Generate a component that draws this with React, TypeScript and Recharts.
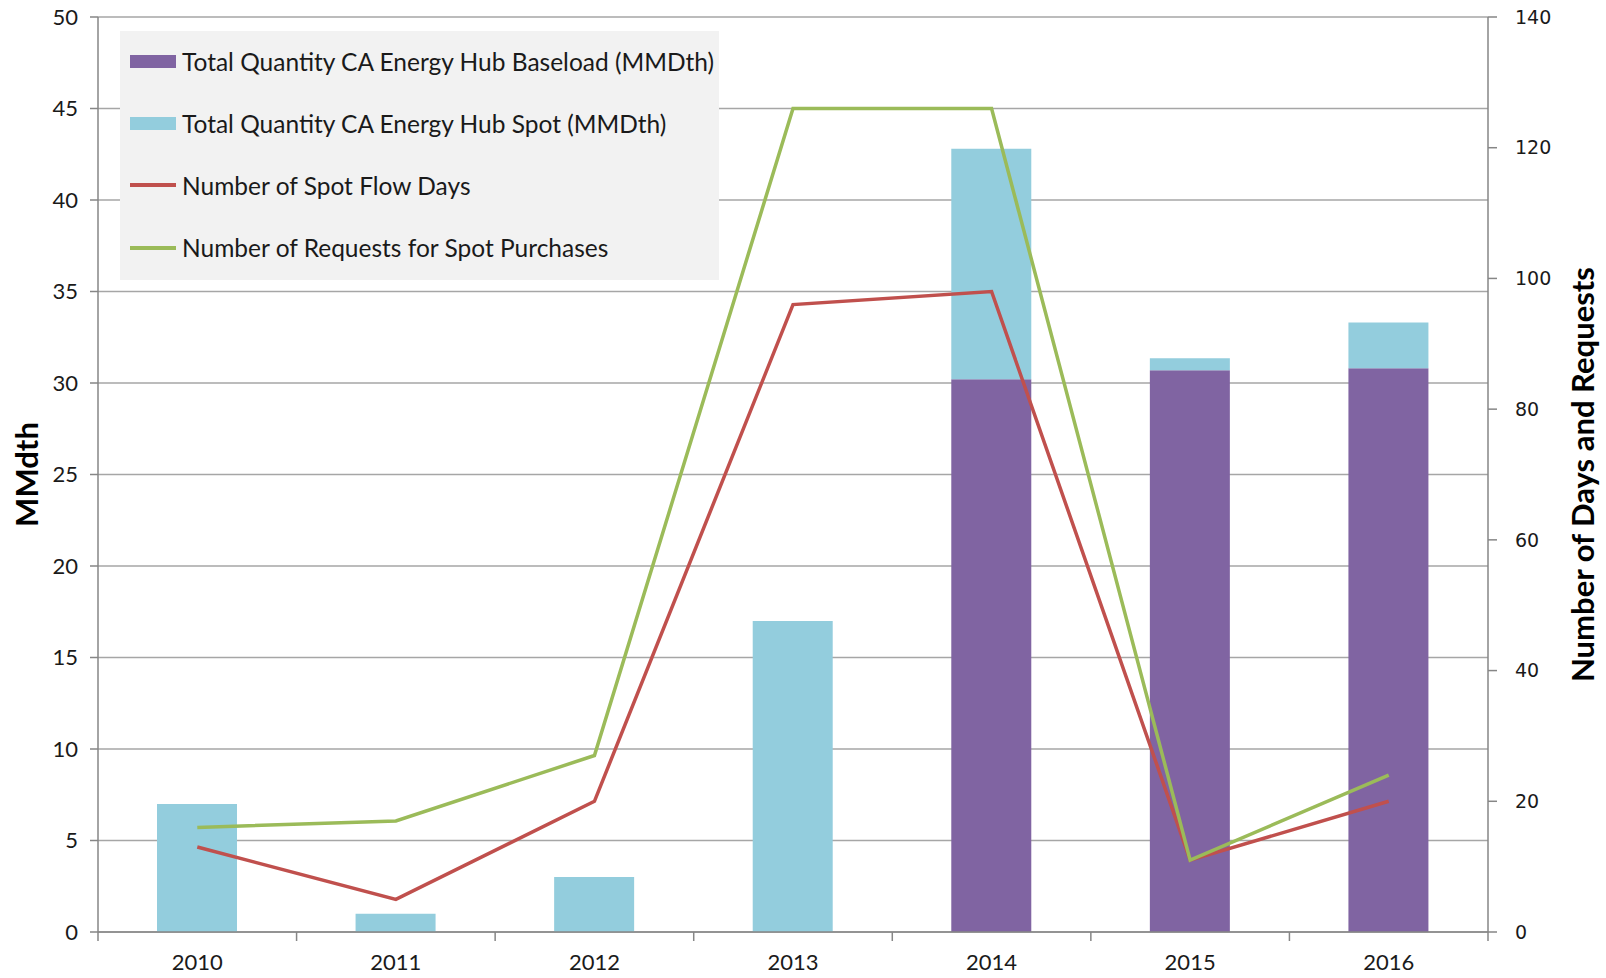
import React from 'react';
import { ComposedChart, Bar, Line, XAxis, YAxis, CartesianGrid, Legend, Label } from 'recharts';

const years = ['2010', '2011', '2012', '2013', '2014', '2015', '2016'];
const baseload = [0, 0, 0, 0, 30.2, 30.7, 30.8];
const spot = [7.0, 1.0, 3.0, 17.0, 12.6, 0.65, 2.5];
const flowDays = [13, 5, 20, 96, 98, 11, 20];
const requests = [16, 17, 27, 126, 126, 11, 24];
const leftTicks = [0, 5, 10, 15, 20, 25, 30, 35, 40, 45, 50];
const rightTicks = [0, 20, 40, 60, 80, 100, 120, 140];

const PURPLE = '#8064A2';
const BLUE = '#93CDDD';
const RED = '#C0504D';
const GREEN = '#9BBB59';
const AXIS = '#868686';
const GRID = '#a6a6a6';
const FONT = 'Lato, "Open Sans", sans-serif';

const chartData = years.map((year, i) => ({
  year,
  baseload: baseload[i],
  spot: spot[i],
  flowDays: flowDays[i],
  requests: requests[i],
}));

const legendItems = [
  { label: 'Total Quantity CA Energy Hub Baseload (MMDth)', color: PURPLE, kind: 'bar' },
  { label: 'Total Quantity CA Energy Hub Spot (MMDth)', color: BLUE, kind: 'bar' },
  { label: 'Number of Spot Flow Days', color: RED, kind: 'line' },
  { label: 'Number of Requests for Spot Purchases', color: GREEN, kind: 'line' },
];

const ChartLegend = () => (
  <div style={{ background: '#f2f2f2', width: 599, height: 249, position: 'relative', fontFamily: FONT }}>
    {legendItems.map((item, i) => (
      <div
        key={item.label}
        style={{ position: 'absolute', left: 10, top: 30 + i * 62.2 - 15, height: 30, display: 'flex', alignItems: 'center' }}
      >
        <span
          style={{
            display: 'inline-block',
            width: 46,
            height: item.kind === 'bar' ? 13 : 4,
            background: item.color,
            marginRight: 6,
          }}
        />
        <span style={{ fontSize: 24.5, color: '#1a1a1a', whiteSpace: 'nowrap' }}>{item.label}</span>
      </div>
    ))}
  </div>
);

const YearTick = (props: any) => {
  const { x, y, payload, index, visibleTicksCount, width } = props;
  const half = payload && payload.offset ? payload.offset : width / visibleTicksCount / 2;
  return (
    <g>
      <line x1={x - half} x2={x - half} y1={y} y2={y + 9} stroke={AXIS} strokeWidth={1.5} />
      {index === visibleTicksCount - 1 && (
        <line x1={x + half} x2={x + half} y1={y} y2={y + 9} stroke={AXIS} strokeWidth={1.5} />
      )}
      <text x={x} y={y + 38} textAnchor="middle" fontFamily={FONT} fontSize={22} fill="#1a1a1a">
        {payload.value}
      </text>
    </g>
  );
};

const VerticalTitle = ({ viewBox, value, cx }: any) => {
  const cy = viewBox.y + viewBox.height / 2;
  return (
    <text
      x={cx}
      y={cy}
      transform={`rotate(-90 ${cx} ${cy})`}
      textAnchor="middle"
      dominantBaseline="central"
      fontFamily={FONT}
      fontWeight="bold"
      fontSize={31}
      fill="#000"
    >
      {value}
    </text>
  );
};

export default function App() {
  return (
    <div style={{ position: 'absolute', left: 0, top: 0, width: 1606, height: 978, background: '#fff' }}>
      <ComposedChart width={1606} height={978} data={chartData} margin={{ top: 17, right: 0, left: 0, bottom: 0 }}>
        <CartesianGrid vertical={false} stroke={GRID} strokeWidth={1.5} yAxisId="left" />
        <XAxis
          dataKey="year"
          height={46}
          stroke={AXIS}
          strokeWidth={1.5}
          tickLine={false}
          tickSize={0}
          tickMargin={0}
          tick={<YearTick />}
          interval={0}
        />
        <YAxis
          yAxisId="left"
          orientation="left"
          width={98}
          domain={[0, 50]}
          ticks={leftTicks}
          interval={0}
          stroke={AXIS}
          strokeWidth={1.5}
          tickSize={8}
          tickMargin={12}
          tick={{ fill: '#1a1a1a', fontSize: 22, fontFamily: FONT }}
        >
          <Label content={(p: any) => <VerticalTitle {...p} value="MMdth" cx={26} />} />
        </YAxis>
        <YAxis
          yAxisId="right"
          orientation="right"
          width={118}
          domain={[0, 140]}
          ticks={rightTicks}
          interval={0}
          stroke={AXIS}
          strokeWidth={1.5}
          tickSize={9}
          tickMargin={18}
          tick={{ fill: '#1a1a1a', fontSize: 19, fontFamily: '"DejaVu Sans", sans-serif' }}
        >
          <Label content={(p: any) => <VerticalTitle {...p} value="Number of Days and Requests" cx={1582} />} />
        </YAxis>
        <Legend
          layout="vertical"
          align="center"
          verticalAlign="middle"
          content={<ChartLegend />}
          wrapperStyle={{ position: 'absolute', left: 120, top: 31, width: 599, height: 249 }}
        />
        <Bar dataKey="baseload" name="Total Quantity CA Energy Hub Baseload (MMDth)" stackId="q" yAxisId="left" fill={PURPLE} barSize={80} isAnimationActive={false} />
        <Bar dataKey="spot" name="Total Quantity CA Energy Hub Spot (MMDth)" stackId="q" yAxisId="left" fill={BLUE} barSize={80} isAnimationActive={false} />
        <Line type="linear" dataKey="flowDays" name="Number of Spot Flow Days" yAxisId="right" stroke={RED} strokeWidth={3.5} dot={false} isAnimationActive={false} />
        <Line type="linear" dataKey="requests" name="Number of Requests for Spot Purchases" yAxisId="right" stroke={GREEN} strokeWidth={3.5} dot={false} isAnimationActive={false} />
      </ComposedChart>
    </div>
  );
}
